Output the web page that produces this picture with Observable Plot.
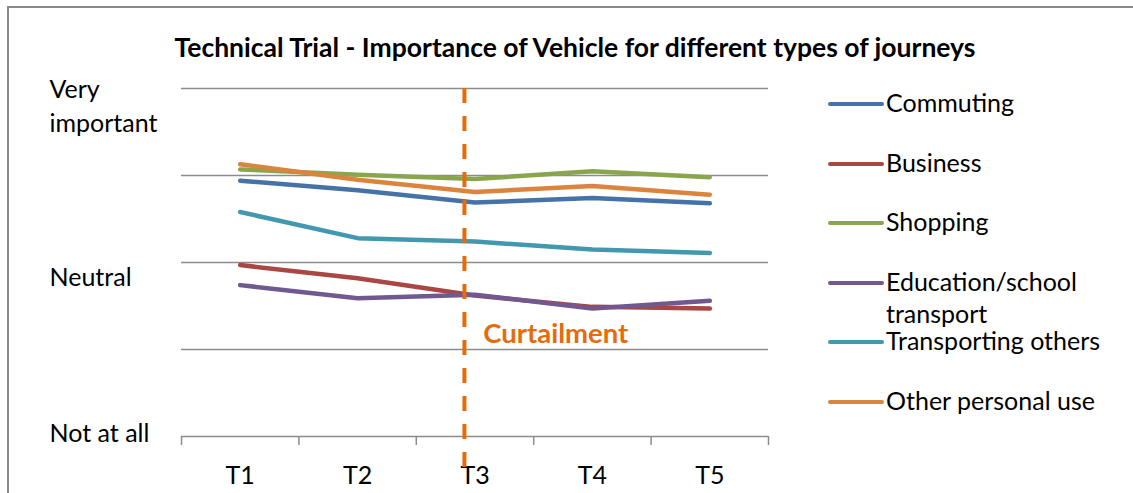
<!DOCTYPE html>
<html>
<head>
<meta charset="utf-8">
<script src="https://cdn.jsdelivr.net/npm/d3@7"></script>
<script src="https://cdn.jsdelivr.net/npm/@observablehq/plot@0.6"></script>
<style>
  html, body { margin: 0; padding: 0; background: #fff; }
  #wrap { position: relative; width: 1133px; height: 493px; overflow: hidden; font-family: Lato, "Open Sans", sans-serif; }
  #frame { position: absolute; left: 7px; top: 6px; width: 1140px; height: 500px; border-left: 2px solid #8a8a8a; border-top: 2px solid #8a8a8a; box-sizing: border-box; }
  #title { position: absolute; left: 0; top: 31px; width: 1150px; text-align: center; font-weight: bold; font-size: 26.5px; color: #000; }
  #chart { position: absolute; left: 0; top: 0; }
  .leg { position: absolute; left: 828px; display: flex; align-items: flex-start; font-size: 25px; color: #000; }
  .leg .sw { width: 56px; height: 4px; border-radius: 2px; margin-top: 13px; flex: none; }
  .leg .lb { width: 240px; line-height: 32px; margin-top: -3px; padding-left: 2px; }
</style>
</head>
<body>
<div id="wrap">
  <div id="frame"></div>
  <div id="title"></div>
  <div id="chart"></div>
  <div id="legend"></div>
</div>
<script>
const titleText = "Technical Trial - Importance of Vehicle for different types of journeys";
const periods = ["T1", "T2", "T3", "T4", "T5"];
const seriesNames = ["Commuting", "Business", "Shopping", "Education/school transport", "Transporting others", "Other personal use"];
const commuting = [3.94, 3.83, 3.69, 3.74, 3.68];
const business = [2.97, 2.82, 2.62, 2.49, 2.47];
const shopping = [4.07, 4.01, 3.96, 4.05, 3.98];
const education = [2.74, 2.59, 2.63, 2.47, 2.56];
const transporting = [3.58, 3.28, 3.24, 3.15, 3.11];
const otherPersonal = [4.13, 3.95, 3.81, 3.88, 3.78];
const yTickValues = [1, 3, 5];
const yTickLabels = ["Not at all", "Neutral", "Very\nimportant"];
const curtailmentX = 2.91;
const curtailmentLabel = "Curtailment";
const curtailmentLabelX = 3.07;
const curtailmentLabelY = 2.18;

const colors = ["#4572A7", "#AA4643", "#89A54E", "#71588F", "#4198AF", "#DB843D"];
const allSeries = [commuting, business, shopping, education, transporting, otherPersonal];

const data = [];
allSeries.forEach((vals, si) => {
  vals.forEach((v, i) => data.push({series: seriesNames[si], t: i + 1, value: v}));
});

document.getElementById("title").textContent = titleText;

const gridColor = "#8c8c8c";
const orange = "#E46C0A";
const font = "Lato, 'Open Sans', sans-serif";

const yLab = yTickValues.map((v, i) => ({value: v, label: yTickLabels[i]}));

const plot = Plot.plot({
  width: 1133,
  height: 493,
  marginLeft: 181,
  marginRight: 365,
  marginTop: 88,
  marginBottom: 57,
  style: {fontFamily: font, background: "transparent", overflow: "visible"},
  x: {domain: [0.5, 5.5], axis: null},
  y: {domain: [1, 5], axis: null},
  color: {domain: seriesNames, range: colors},
  marks: [
    Plot.ruleY([2, 3, 4, 5], {stroke: gridColor, strokeWidth: 1.5}),
    Plot.ruleY([1], {stroke: gridColor, strokeWidth: 1.5}),
    Plot.axisX({ticks: [0.5, 1.5, 2.5, 3.5, 4.5, 5.5], tickSize: 9, tickFormat: () => "", label: null, stroke: gridColor, strokeWidth: 1.5}),
    Plot.axisX({ticks: periods.map((p, i) => i + 1), tickSize: 0, tickPadding: 30, tickFormat: d => periods[d - 1], label: null, fontSize: 25, fill: "#000"}),
    Plot.line(data, {x: "t", y: "value", z: "series", stroke: "series", strokeWidth: 4.5, strokeLinecap: "round", strokeLinejoin: "round"}),
    Plot.ruleX([curtailmentX], {y1: 5, y2: 0.55, stroke: orange, strokeWidth: 4, strokeDasharray: "15,13"}),
    Plot.text([curtailmentLabel], {x: curtailmentLabelX, y: curtailmentLabelY, text: d => d, textAnchor: "start", fill: orange, fontWeight: "bold", fontSize: 27.5}),
    Plot.text(yLab.filter(d => d.value === 5), {y: "value", text: "label", frameAnchor: "left", dx: -132, textAnchor: "start", lineAnchor: "top", dy: -15, lineHeight: 1.36, fontSize: 25, fill: "#000"}),
    Plot.text(yLab.filter(d => d.value === 3), {y: "value", text: "label", frameAnchor: "left", dx: -132, textAnchor: "start", dy: 15, fontSize: 25, fill: "#000"}),
    Plot.text(yLab.filter(d => d.value === 1), {y: "value", text: "label", frameAnchor: "left", dx: -132, textAnchor: "start", dy: -3, fontSize: 25, fill: "#000"})
  ]
});
document.getElementById("chart").appendChild(plot);

const legend = document.getElementById("legend");
seriesNames.forEach((name, i) => {
  const item = document.createElement("div");
  item.className = "leg";
  item.style.top = (104 - 15 + i * 59.6) + "px";
  const sw = document.createElement("div");
  sw.className = "sw";
  sw.style.background = colors[i];
  const lb = document.createElement("div");
  lb.className = "lb";
  lb.textContent = name;
  item.appendChild(sw);
  item.appendChild(lb);
  legend.appendChild(item);
});
</script>
</body>
</html>
